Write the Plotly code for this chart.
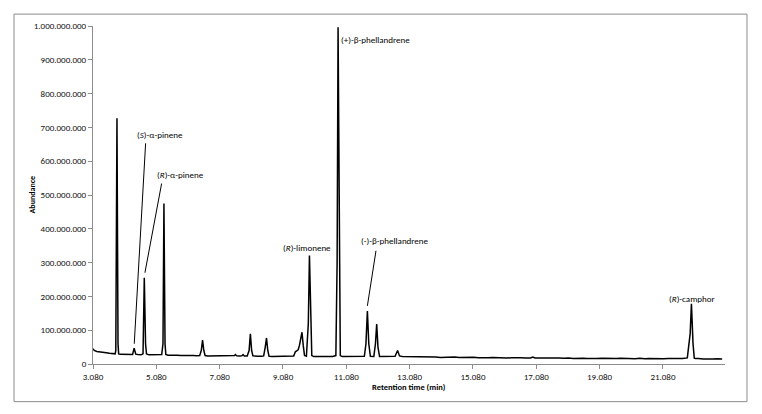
import plotly.graph_objects as go

# Retention time (min) and abundance (millions of counts)
retention_time = [
    3.08, 3.12, 3.20, 3.30, 3.40, 3.50, 3.60, 3.70, 3.78, 3.80, 3.837, 3.87, 3.89,
    3.95, 4.05, 4.15, 4.25, 4.33, 4.38, 4.43, 4.50, 4.60, 4.66, 4.70, 4.74, 4.77,
    4.85, 4.95, 5.05, 5.15, 5.25, 5.29, 5.32, 5.355, 5.38, 5.45, 5.55, 5.65, 5.75,
    5.85, 5.95, 6.05, 6.15, 6.25, 6.35, 6.45, 6.50, 6.54, 6.58, 6.62, 6.70, 6.80,
    6.90, 7.00, 7.10, 7.20, 7.30, 7.40, 7.50, 7.55, 7.58, 7.62, 7.70, 7.78, 7.82,
    7.86, 7.95, 8.01, 8.05, 8.09, 8.13, 8.20, 8.30, 8.40, 8.47, 8.52, 8.56, 8.60,
    8.64, 8.75, 8.85, 8.95, 9.05, 9.15, 9.25, 9.35, 9.42, 9.47, 9.52, 9.56, 9.60,
    9.64, 9.68, 9.72, 9.76, 9.82, 9.88, 9.916, 9.95, 9.99, 10.05, 10.20, 10.35,
    10.50, 10.65, 10.75, 10.79, 10.82, 10.855, 10.89, 10.95, 11.10, 11.25, 11.40,
    11.55, 11.65, 11.70, 11.746, 11.79, 11.84, 11.95, 12.00, 12.04, 12.08, 12.13,
    12.30, 12.50, 12.62, 12.70, 12.76, 12.85, 13.00, 13.15, 13.30, 13.45, 13.60,
    13.75, 13.90, 14.05, 14.20, 14.35, 14.50, 14.65, 14.80, 14.95, 15.10, 15.25,
    15.40, 15.55, 15.70, 15.85, 16.00, 16.15, 16.30, 16.45, 16.60, 16.75, 16.90,
    16.97, 17.04, 17.20, 17.35, 17.50, 17.65, 17.80, 17.95, 18.10, 18.25, 18.40,
    18.55, 18.70, 18.85, 19.00, 19.15, 19.30, 19.45, 19.60, 19.75, 19.90, 20.05,
    20.20, 20.35, 20.50, 20.65, 20.80, 20.95, 21.10, 21.25, 21.40, 21.55, 21.70,
    21.85, 21.94, 21.98, 22.03, 22.07, 22.11, 22.20, 22.35, 22.50, 22.65, 22.80,
    22.95, 23.03,
]
abundance_millions = [
    45, 40, 37, 35, 34, 33, 31.5, 31, 30, 40, 727, 60, 30,
    28.5, 28, 28.5, 27.5, 28, 47, 29, 28, 27.5, 30, 255, 60, 30,
    27, 27, 26.5, 27, 28, 60, 475, 60, 28, 26, 26.5, 25.5, 26,
    25, 25.5, 25, 24.5, 25, 24.5, 25, 40, 71, 40, 25, 24, 24,
    23.5, 24, 23.5, 23.5, 23, 23.5, 23, 25, 28, 24, 23.5, 24, 28,
    24, 24, 40, 89, 40, 24, 23, 23, 23, 24, 50, 77, 40,
    23, 22.5, 22.5, 22.5, 22.5, 22, 22.5, 22, 24, 36, 40, 42, 55,
    80, 94, 55, 25, 23, 120, 321, 120, 25, 22, 22, 22,
    22, 22.5, 25, 300, 996, 300, 25, 22, 22, 22, 22,
    22, 23, 60, 157, 60, 23, 22.5, 60, 118, 50, 22,
    22, 22, 23, 40, 24, 22, 22, 21, 22, 20.5, 21.5,
    20, 21, 19.5, 20.5, 19.5, 20.5, 19, 20, 19, 20, 18.5,
    19.5, 18.5, 19, 18, 19, 18, 18.5, 17.5, 18.5, 18, 18,
    20.5, 18, 17.5, 18, 17, 18, 17.5, 17, 18, 16.5, 17.5,
    17, 16.5, 17.5, 16.5, 17, 16, 17, 16, 17, 16, 16.5,
    15.5, 17, 15.5, 16.5, 15.5, 16.5, 15.5, 16.5, 15.5, 16.5,
    16, 18, 90, 178, 60, 17, 16, 16.5, 15, 16, 15,
    15.5, 15,
]
abundance = [v * 1e6 for v in abundance_millions]

# Axis ticks
x_tick_values = [3.08, 5.08, 7.08, 9.08, 11.08, 13.08, 15.08, 17.08, 19.08, 21.08]
x_tick_labels = ["3.080", "5.080", "7.080", "9.080", "11.080", "13.080",
                 "15.080", "17.080", "19.080", "21.080"]
y_tick_values = [0, 1e8, 2e8, 3e8, 4e8, 5e8, 6e8, 7e8, 8e8, 9e8, 1e9]
y_tick_labels = ["0", "100.000.000", "200.000.000", "300.000.000", "400.000.000",
                 "500.000.000", "600.000.000", "700.000.000", "800.000.000",
                 "900.000.000", "1.000.000.000"]

# Peak labels (text, position in minutes / abundance)
label_texts = ["(<i>S</i>)-α-pinene", "(<i>R</i>)-α-pinene", "(<i>R</i>)-limonene",
               "(+)-β-phellandrene", "(-)-β-phellandrene", "(<i>R</i>)-camphor"]
label_x = [5.205, 5.856, 9.828, 12.017, 12.632, 22.01]
label_y = [680e6, 561e6, 345e6, 961e6, 365e6, 195e6]

# Leader lines from labels to peaks
leader_x0 = [4.742, 5.247, 12.017]
leader_y0 = [653e6, 534e6, 335e6]
leader_x1 = [4.383, 4.72, 11.746]
leader_y1 = [60e6, 270e6, 172e6]

FONT = "Carlito, Calibri, Liberation Sans, Arial, sans-serif"
GREY = "#8c8c8c"

fig = go.Figure()
fig.add_trace(go.Scatter(
    x=retention_time, y=abundance, mode="lines",
    line=dict(color="black", width=1.5), hoverinfo="skip", showlegend=False,
))

annotations = []
for t, lx, ly in zip(label_texts, label_x, label_y):
    annotations.append(dict(x=lx, y=ly, xref="x", yref="y", text=t, showarrow=False,
                            xanchor="center", yanchor="middle",
                            font=dict(family=FONT, size=9, color="black")))
annotations.append(dict(x=-0.0965, y=0.5015, xref="paper", yref="paper",
                        text="<b>Abundance</b>", textangle=-90, showarrow=False,
                        xanchor="center", yanchor="middle",
                        font=dict(family=FONT, size=8, color="black")))
annotations.append(dict(x=0.5, y=-0.0666, xref="paper", yref="paper",
                        text="<b>Retention time (min)</b>", showarrow=False,
                        xanchor="center", yanchor="middle",
                        font=dict(family=FONT, size=8.5, color="black")))

shapes = []
for x0, y0, x1, y1 in zip(leader_x0, leader_y0, leader_x1, leader_y1):
    shapes.append(dict(type="line", xref="x", yref="y", x0=x0, y0=y0, x1=x1, y1=y1,
                       line=dict(color="black", width=1)))
shapes.append(dict(type="rect", xref="paper", yref="paper",
                   x0=-0.125, x1=1.0348, y0=-0.1114, y1=1.0352,
                   line=dict(color=GREY, width=1), layer="below"))

# The page body adds an 8px offset, so the figure is 8px smaller on each side
fig.update_layout(
    width=754, height=406,
    margin=dict(l=85, r=37, t=15, b=50),
    paper_bgcolor="white", plot_bgcolor="white",
    font=dict(family=FONT, size=9, color="#111111"),
    annotations=annotations, shapes=shapes,
    xaxis=dict(range=[3.08, 23.04], tickmode="array", tickvals=x_tick_values,
               ticktext=x_tick_labels, showline=True, linecolor=GREY, linewidth=1,
               ticks="outside", ticklen=4, tickcolor=GREY, showgrid=False,
               zeroline=False, tickfont=dict(family=FONT, size=9)),
    yaxis=dict(range=[0, 1e9], tickmode="array", tickvals=y_tick_values,
               ticktext=y_tick_labels, showline=True, linecolor=GREY, linewidth=1,
               ticks="outside", ticklen=4, tickcolor=GREY, showgrid=False,
               zeroline=False, tickfont=dict(family=FONT, size=9)),
)

fig.write_html("out.html")
